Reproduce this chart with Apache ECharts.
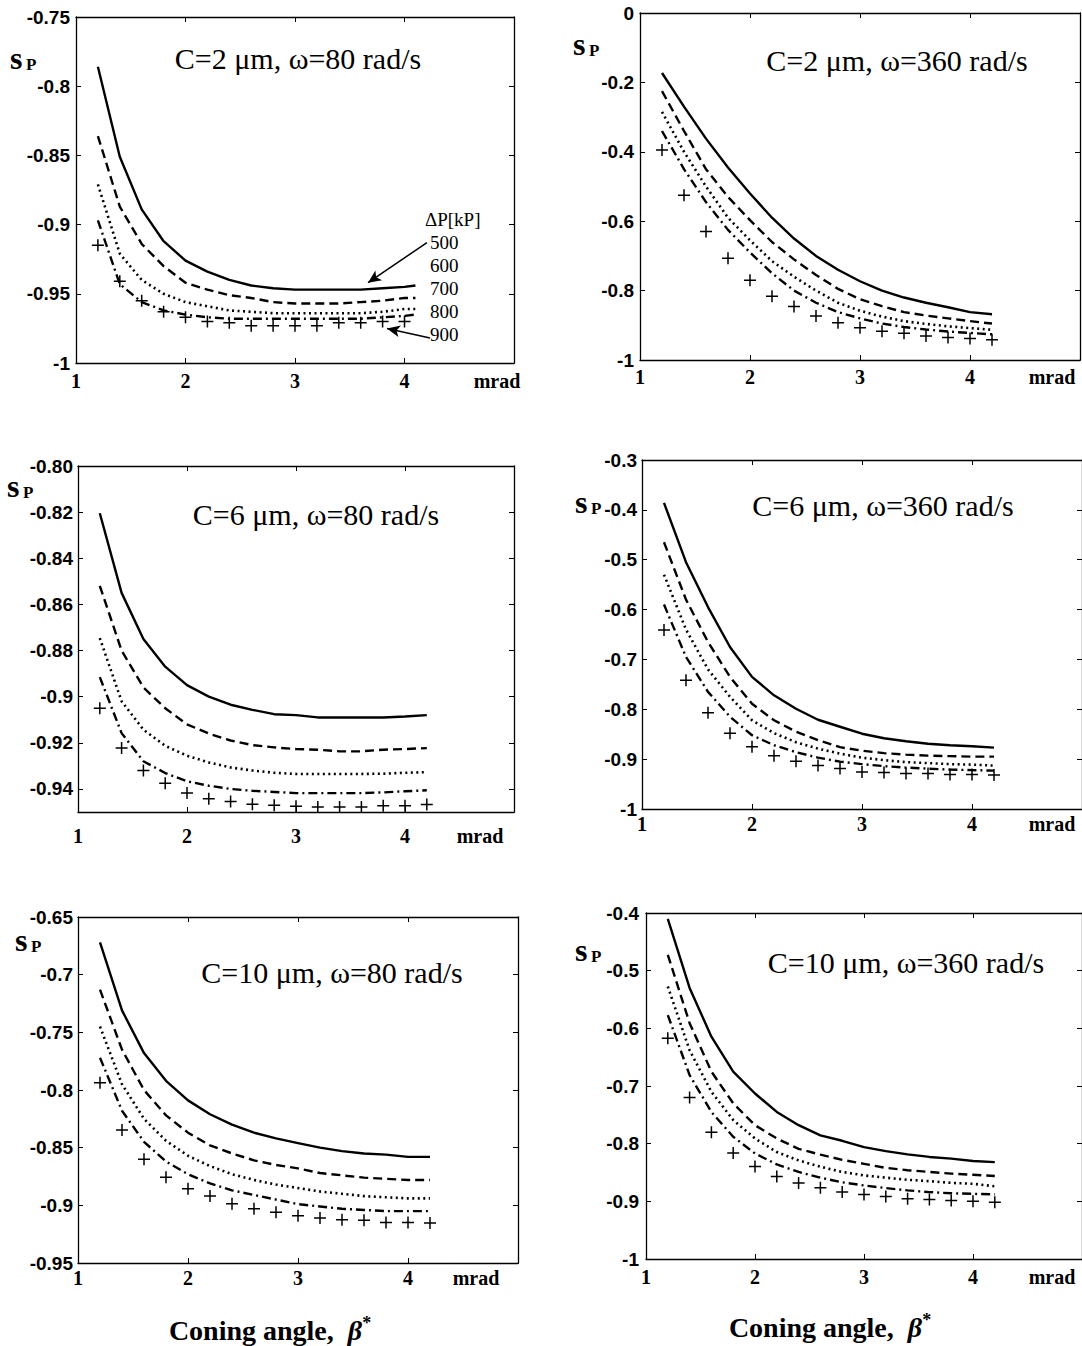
<!DOCTYPE html>
<html>
<head>
<meta charset="utf-8">
<title>Coning angle</title>
<script src="https://cdn.jsdelivr.net/npm/echarts@6/dist/echarts.min.js"></script>
<style>
  html, body { margin: 0; padding: 0; background: #fff; }
  #chart { width: 1082px; height: 1346px; }
</style>
</head>
<body>
<div id="chart"></div>
<script>
// coning angle samples (mrad)
var X = [1.2, 1.4, 1.6, 1.8, 2.0, 2.2, 2.4, 2.6, 2.8, 3.0, 3.2, 3.4, 3.6, 3.8, 4.0, 4.2];
var X_A = [1.2, 1.4, 1.6, 1.8, 2.0, 2.2, 2.4, 2.6, 2.8, 3.0, 3.2, 3.4, 3.6, 3.8, 4.0, 4.1];
var X_A_PLUS = [1.2, 1.4, 1.6, 1.8, 2.0, 2.2, 2.4, 2.6, 2.8, 3.0, 3.2, 3.4, 3.6, 3.8, 4.0];

var DP_LABELS = ['500', '600', '700', '800', '900'];

// C=2 um, w=80 rad/s
var A500 = [-0.786, -0.851, -0.889, -0.912, -0.926, -0.934, -0.940, -0.944, -0.946, -0.947, -0.947, -0.947, -0.947, -0.946, -0.945, -0.944];
var A600 = [-0.836, -0.887, -0.914, -0.930, -0.942, -0.947, -0.951, -0.953, -0.956, -0.957, -0.957, -0.957, -0.956, -0.955, -0.953, -0.953];
var A700 = [-0.871, -0.921, -0.940, -0.950, -0.956, -0.959, -0.962, -0.963, -0.964, -0.964, -0.964, -0.964, -0.964, -0.963, -0.961, -0.961];
var A800 = [-0.897, -0.943, -0.956, -0.962, -0.965, -0.967, -0.968, -0.968, -0.968, -0.968, -0.968, -0.968, -0.968, -0.967, -0.966, -0.965];
var A900 = [-0.915, -0.941, -0.955, -0.963, -0.967, -0.970, -0.971, -0.973, -0.973, -0.973, -0.973, -0.971, -0.971, -0.970, -0.970];

// C=2 um, w=360 rad/s
var B500 = [-0.173, -0.270, -0.362, -0.445, -0.520, -0.590, -0.650, -0.700, -0.740, -0.773, -0.800, -0.820, -0.835, -0.848, -0.862, -0.868];
var B600 = [-0.225, -0.340, -0.450, -0.530, -0.597, -0.660, -0.710, -0.755, -0.795, -0.825, -0.845, -0.862, -0.872, -0.880, -0.888, -0.895];
var B700 = [-0.285, -0.400, -0.500, -0.590, -0.655, -0.715, -0.760, -0.800, -0.835, -0.858, -0.875, -0.888, -0.896, -0.903, -0.908, -0.913];
var B800 = [-0.340, -0.450, -0.545, -0.625, -0.690, -0.750, -0.800, -0.835, -0.862, -0.880, -0.895, -0.905, -0.912, -0.918, -0.922, -0.926];
var B900 = [-0.395, -0.525, -0.630, -0.707, -0.770, -0.816, -0.846, -0.873, -0.893, -0.907, -0.917, -0.923, -0.931, -0.935, -0.938, -0.942];

// C=6 um, w=80 rad/s
var C500 = [-0.8205, -0.855, -0.875, -0.887, -0.895, -0.900, -0.9035, -0.9057, -0.9076, -0.908, -0.909, -0.909, -0.909, -0.909, -0.9086, -0.908];
var C600 = [-0.852, -0.880, -0.896, -0.905, -0.912, -0.916, -0.919, -0.921, -0.922, -0.9227, -0.923, -0.9237, -0.9237, -0.923, -0.9227, -0.9223];
var C700 = [-0.8746, -0.902, -0.9143, -0.9213, -0.9256, -0.9285, -0.9307, -0.932, -0.933, -0.9335, -0.9335, -0.9335, -0.9335, -0.9334, -0.933, -0.9327];
var C800 = [-0.8915, -0.9158, -0.928, -0.9331, -0.9367, -0.9386, -0.940, -0.9408, -0.9413, -0.9418, -0.9418, -0.9418, -0.9418, -0.9415, -0.941, -0.9406];
var C900 = [-0.905, -0.9223, -0.932, -0.9375, -0.9418, -0.9443, -0.9454, -0.9466, -0.9471, -0.9475, -0.9478, -0.9478, -0.9478, -0.9473, -0.9473, -0.9468];

// C=6 um, w=360 rad/s
var D500 = [-0.386, -0.505, -0.595, -0.675, -0.735, -0.772, -0.799, -0.821, -0.835, -0.849, -0.858, -0.864, -0.869, -0.872, -0.874, -0.877];
var D600 = [-0.465, -0.580, -0.665, -0.735, -0.789, -0.822, -0.845, -0.862, -0.876, -0.883, -0.888, -0.891, -0.893, -0.894, -0.895, -0.895];
var D700 = [-0.530, -0.640, -0.720, -0.775, -0.822, -0.848, -0.866, -0.879, -0.889, -0.897, -0.902, -0.906, -0.908, -0.910, -0.911, -0.913];
var D800 = [-0.590, -0.695, -0.765, -0.815, -0.852, -0.872, -0.886, -0.897, -0.905, -0.910, -0.914, -0.917, -0.919, -0.921, -0.922, -0.923];
var D900 = [-0.641, -0.742, -0.807, -0.848, -0.875, -0.893, -0.904, -0.913, -0.919, -0.926, -0.927, -0.929, -0.929, -0.931, -0.931, -0.932];

// C=10 um, w=80 rad/s
var E500 = [-0.672, -0.731, -0.768, -0.792, -0.809, -0.821, -0.830, -0.837, -0.842, -0.846, -0.850, -0.853, -0.855, -0.856, -0.858, -0.858];
var E600 = [-0.713, -0.765, -0.800, -0.822, -0.837, -0.848, -0.855, -0.861, -0.865, -0.868, -0.872, -0.874, -0.876, -0.877, -0.878, -0.878];
var E700 = [-0.745, -0.795, -0.825, -0.844, -0.857, -0.866, -0.873, -0.878, -0.882, -0.885, -0.888, -0.890, -0.892, -0.893, -0.894, -0.894];
var E800 = [-0.772, -0.818, -0.845, -0.862, -0.873, -0.881, -0.887, -0.891, -0.895, -0.899, -0.901, -0.903, -0.904, -0.905, -0.905, -0.905];
var E900 = [-0.7937, -0.8346, -0.860, -0.8756, -0.8857, -0.892, -0.8987, -0.903, -0.906, -0.909, -0.911, -0.9125, -0.913, -0.9148, -0.9148, -0.9154];

// C=10 um, w=360 rad/s
var F500 = [-0.410, -0.530, -0.6145, -0.675, -0.713, -0.745, -0.768, -0.7855, -0.795, -0.806, -0.813, -0.8186, -0.823, -0.826, -0.830, -0.832];
var F600 = [-0.4725, -0.591, -0.675, -0.730, -0.768, -0.791, -0.809, -0.819, -0.828, -0.835, -0.842, -0.846, -0.849, -0.852, -0.854, -0.856];
var F700 = [-0.5275, -0.638, -0.710, -0.759, -0.791, -0.8145, -0.829, -0.840, -0.849, -0.855, -0.859, -0.8626, -0.865, -0.868, -0.8696, -0.874];
var F800 = [-0.577, -0.681, -0.745, -0.788, -0.817, -0.836, -0.849, -0.859, -0.867, -0.8725, -0.877, -0.881, -0.884, -0.886, -0.887, -0.888];
var F900 = [-0.6174, -0.720, -0.780, -0.8162, -0.8394, -0.8568, -0.868, -0.8765, -0.884, -0.888, -0.8916, -0.8957, -0.897, -0.8986, -0.900, -0.9014];

// tick labels of the C=6 um, w=80 rad/s panel
var Y_C_TICKS = [-0.80, -0.82, -0.84, -0.86, -0.88, -0.90, -0.92, -0.94];
var Y_C_LABELS = ['-0.80', '-0.82', '-0.84', '-0.86', '-0.88', '-0.9', '-0.92', '-0.94'];

// arrows of the dP annotation, data coords [from, to]
var ARROWS_A = [[[4.205, -0.913], [3.667, -0.942]], [[4.233, -0.982], [3.84, -0.975]]];

var SERIF = 'Liberation Serif';
var SANS = 'Liberation Sans';

var panels = [
    { title: 'C=2 \u03bcm, \u03c9=80 rad/s', tx: 298, ty: 58, sx: 10, sy: 68,
      left: 76, top: 17, width: 438, height: 346, ymin: -1, ymax: -0.75, yint: 0.05, xm: 8, ym: 6, mrad: 17,
      xl: X_A, xp: X_A_PLUS, lines: [A500, A600, A700, A800], plus: A900 },
    { title: 'C=2 \u03bcm, \u03c9=360 rad/s', tx: 897, ty: 60, sx: 573, sy: 54,
      left: 640, top: 13, width: 440, height: 347, ymin: -1, ymax: 0, yint: 0.2, xm: 7, ym: 6, mrad: 28,
      xl: X, xp: X, lines: [B500, B600, B700, B800], plus: B900 },
    { title: 'C=6 \u03bcm, \u03c9=80 rad/s', tx: 316, ty: 514, sx: 7, sy: 496,
      left: 78, top: 466, width: 436, height: 346, ymin: -0.95, ymax: -0.80, custom: true, xm: 14, ym: 5, mrad: 34,
      xl: X, xp: X, lines: [C500, C600, C700, C800], plus: C900 },
    { title: 'C=6 \u03bcm, \u03c9=360 rad/s', tx: 883, ty: 505, sx: 575, sy: 512,
      left: 642, top: 460, width: 440, height: 349, ymin: -1, ymax: -0.3, yint: 0.1, xm: 5, ym: 5, mrad: 30,
      xl: X, xp: X, lines: [D500, D600, D700, D800], plus: D900 },
    { title: 'C=10 \u03bcm, \u03c9=80 rad/s', tx: 332, ty: 972, sx: 15, sy: 950,
      left: 78, top: 917, width: 440, height: 346, ymin: -0.95, ymax: -0.65, yint: 0.05, xm: 5, ym: 5, mrad: 42,
      xl: X, xp: X, lines: [E500, E600, E700, E800], plus: E900 },
    { title: 'C=10 \u03bcm, \u03c9=360 rad/s', tx: 906, ty: 962, sx: 575, sy: 960,
      left: 646, top: 913, width: 440, height: 346, ymin: -1, ymax: -0.4, yint: 0.1, xm: 8, ym: 7, mrad: 30,
      xl: X, xp: X, lines: [F500, F600, F700, F800], plus: F900 }
];

var lineTypes = ['solid', [9, 5], [2, 3.5], [9, 4, 2, 4]];
var lineWidths = [2.4, 2.4, 2.6, 2.4];

function pairs(xs, ys) {
    return ys.map(function (y, k) { return [xs[k], y]; });
}

var grids = [], xAxes = [], yAxes = [], series = [], graphics = [];
var boxLine = { show: true, onZero: false, lineStyle: { color: '#000', width: 1.3 } };
var inTick = { show: true, inside: true, length: 5, lineStyle: { color: '#000', width: 1 } };

panels.forEach(function (p, i) {
    grids.push({ left: p.left, top: p.top, width: p.width, height: p.height });

    var off = p.mrad;
    xAxes.push({
        gridIndex: i, type: 'value', min: 1, max: 5, interval: 1,
        axisLine: boxLine, axisTick: inTick, splitLine: { show: false },
        axisLabel: {
            margin: p.xm, color: '#000', fontFamily: SERIF, fontWeight: 'bold', fontSize: 20,
            formatter: function (v) { return v === 5 ? '{m|mrad}' : String(v); },
            rich: { m: { fontFamily: SERIF, fontWeight: 'bold', fontSize: 20, color: '#000', padding: [0, 2 * off, 0, 0] } }
        }
    });
    xAxes.push({
        gridIndex: i, type: 'value', position: 'top', min: 1, max: 5, interval: 1,
        axisLine: boxLine, axisTick: inTick, axisLabel: { show: false }, splitLine: { show: false }
    });

    var yLabel = { margin: p.ym, color: '#000', fontFamily: SANS, fontWeight: 'bold', fontSize: 19 };
    var yMain = {
        gridIndex: i, type: 'value', min: p.ymin, max: p.ymax,
        axisLine: boxLine, axisTick: inTick, splitLine: { show: false }, axisLabel: yLabel
    };
    var yRight = {
        gridIndex: i, type: 'value', position: 'right', min: p.ymin, max: p.ymax,
        axisLine: boxLine, axisTick: inTick, splitLine: { show: false }, axisLabel: { show: false }
    };
    if (p.custom) {
        yLabel.customValues = Y_C_TICKS;
        yLabel.formatter = function (v) {
            for (var k = 0; k < Y_C_TICKS.length; k++) {
                if (Math.abs(Y_C_TICKS[k] - v) < 1e-6) return Y_C_LABELS[k];
            }
            return '';
        };
        yMain.axisTick = Object.assign({}, inTick, { customValues: Y_C_TICKS });
        yRight.axisTick = Object.assign({}, inTick, { customValues: Y_C_TICKS });
        yRight.axisLabel = { show: false, customValues: Y_C_TICKS };
    } else {
        yMain.interval = p.yint;
        yRight.interval = p.yint;
    }
    yAxes.push(yMain);
    yAxes.push(yRight);

    p.lines.forEach(function (ys, k) {
        var s = {
            type: 'line', name: DP_LABELS[k], xAxisIndex: 2 * i, yAxisIndex: 2 * i,
            data: pairs(p.xl, ys), showSymbol: false, symbol: 'none',
            lineStyle: { color: '#000', width: lineWidths[k], type: lineTypes[k] },
            animation: false, silent: true
        };
        if (i === 0 && k === 0) {
            s.markLine = {
                silent: true, symbol: ['none', 'arrow'], symbolSize: [9, 13], animation: false,
                lineStyle: { color: '#000', type: 'solid', width: 1.5 },
                label: { show: false },
                data: ARROWS_A.map(function (a) { return [{ coord: a[0] }, { coord: a[1] }]; })
            };
        }
        series.push(s);
    });
    series.push({
        type: 'scatter', name: DP_LABELS[4], xAxisIndex: 2 * i, yAxisIndex: 2 * i,
        data: pairs(p.xp, p.plus),
        symbol: 'path://M5,0L5,10M0,5L10,5', symbolSize: 12,
        itemStyle: { color: 'none', borderColor: '#000', borderWidth: 1.5, opacity: 1 },
        animation: false, silent: true
    });

    graphics.push({
        type: 'text', x: p.tx, y: p.ty,
        style: { text: p.title, font: '30px "Liberation Serif"', fill: '#000', textAlign: 'center', textVerticalAlign: 'middle', align: 'center', verticalAlign: 'middle' }
    });
    graphics.push({
        type: 'text', x: p.sx, y: p.sy,
        style: { text: 's', font: 'bold 32px "Liberation Serif"', lineHeight: 20, fill: '#000', textAlign: 'left', textVerticalAlign: 'bottom', align: 'left', verticalAlign: 'bottom' }
    });
    graphics.push({
        type: 'text', x: p.sx + 16, y: p.sy + 2,
        style: { text: 'P', font: 'bold 17px "Liberation Serif"', lineHeight: 12, fill: '#000', textAlign: 'left', textVerticalAlign: 'bottom', align: 'left', verticalAlign: 'bottom' }
    });
});

// dP legend text in the first panel
var legendRows = ['\u0394P[kP]'].concat(DP_LABELS);
var legendY = [219, 242, 265, 288, 311, 334];
legendRows.forEach(function (t, k) {
    graphics.push({
        type: 'text', x: k === 0 ? 425 : 430, y: legendY[k],
        style: { text: t, font: '19px "Liberation Serif"', fill: '#000', textAlign: 'left', textVerticalAlign: 'middle', align: 'left', verticalAlign: 'middle' }
    });
});

// bottom axis titles
[270, 830].forEach(function (cx, k) {
    graphics.push({
        type: 'text', x: cx, y: k === 0 ? 1330 : 1327,
        style: {
            text: '{a|Coning angle,  }{b|\u03b2}{c|*}',
            textAlign: 'center', textVerticalAlign: 'middle', align: 'center', verticalAlign: 'middle',
            rich: {
                a: { font: 'bold 28px "Liberation Serif"', fill: '#000', color: '#000' },
                b: { font: 'italic bold 28px "Liberation Serif"', fill: '#000', color: '#000' },
                c: { font: 'bold 18px "Liberation Serif"', fill: '#000', color: '#000', padding: [0, 0, 14, 0] }
            }
        }
    });
});

var chart = echarts.init(document.getElementById('chart'), null, { renderer: 'svg' });
chart.setOption({
    backgroundColor: '#fff',
    animation: false,
    grid: grids,
    xAxis: xAxes,
    yAxis: yAxes,
    series: series,
    graphic: graphics
});
</script>
</body>
</html>
